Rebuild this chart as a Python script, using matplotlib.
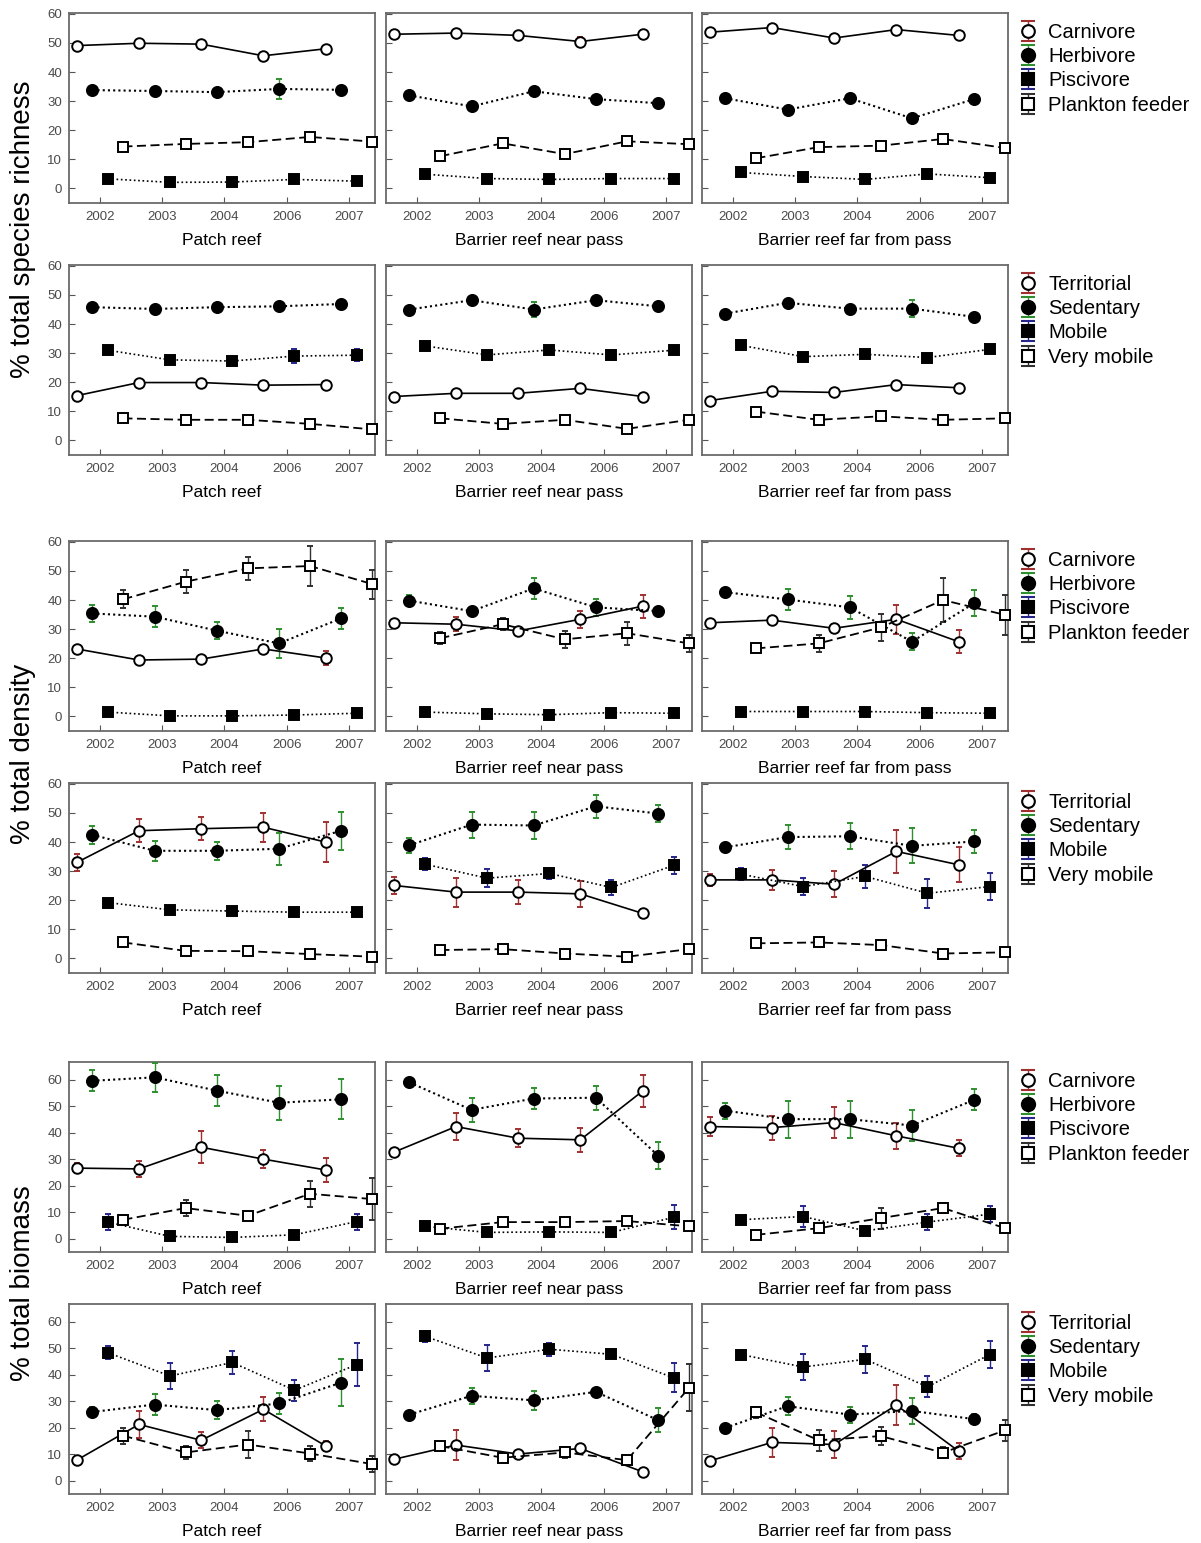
import numpy as np
import matplotlib.pyplot as plt

plt.rcParams['font.family'] = ['Liberation Sans', 'DejaVu Sans']

years = ['2002', '2003', '2004', '2006', '2007']
sites = ['Patch reef', 'Barrier reef near pass', 'Barrier reef far from pass']
trophic = ['Carnivore', 'Herbivore', 'Piscivore', 'Plankton feeder']
mobility = ['Territorial', 'Sedentary', 'Mobile', 'Very mobile']

# each list: one row per site (patch, near pass, far from pass), one value per year
# --- % total species richness, trophic groups
rich_carn = [[49.1, 49.9, 49.6, 45.6, 48.0], [53.0, 53.4, 52.6, 50.5, 53.0], [53.7, 55.3, 51.7, 54.6, 52.6]]
rich_carn_err = [[0.5, 0.5, 0.5, 0.8, 0.5], [0.5, 0.5, 0.5, 1.5, 1.5], [0.5, 0.5, 0.5, 0.5, 0.5]]
rich_herb = [[33.8, 33.5, 33.1, 34.2, 33.9], [32.0, 28.2, 33.4, 30.7, 29.3], [31.0, 27.1, 31.0, 24.1, 30.7]]
rich_herb_err = [[0.8, 0.6, 0.6, 3.5, 0.6], [0.8, 0.8, 0.8, 0.8, 0.6], [0.6, 0.6, 0.6, 0.6, 0.6]]
rich_pisc = [[3.3, 2.1, 2.2, 3.1, 2.5], [4.9, 3.4, 3.1, 3.4, 3.4], [5.5, 4.1, 3.1, 5.0, 3.7]]
rich_pisc_err = [[0.5, 0.5, 0.5, 0.5, 0.5], [0.5, 0.5, 0.5, 0.5, 0.5], [0.5, 0.5, 0.5, 0.5, 0.5]]
rich_plank = [[14.4, 15.3, 15.9, 17.7, 16.1], [11.1, 15.5, 11.8, 16.2, 15.2], [10.4, 14.2, 14.7, 17.0, 13.9]]
rich_plank_err = [[0.5, 0.5, 0.5, 0.8, 0.5], [0.5, 0.5, 0.5, 0.5, 0.5], [0.5, 0.5, 0.5, 0.5, 0.5]]

# --- % total species richness, mobility groups
rich_terr = [[15.4, 19.9, 19.9, 19.0, 19.2], [15.1, 16.2, 16.2, 17.9, 15.1], [13.7, 16.9, 16.5, 19.2, 18.1]]
rich_terr_err = [[0.5, 0.5, 0.5, 0.5, 0.5], [0.5, 0.5, 0.5, 0.5, 0.5], [0.5, 0.5, 0.5, 0.5, 0.5]]
rich_sed = [[45.8, 45.2, 45.8, 46.1, 46.9], [45.0, 48.2, 45.0, 48.2, 46.1], [43.6, 47.3, 45.3, 45.3, 42.5]]
rich_sed_err = [[0.5, 0.5, 0.5, 0.8, 0.5], [0.5, 0.8, 2.5, 0.8, 0.5], [0.5, 0.5, 0.8, 3.0, 0.5]]
rich_mob = [[31.0, 27.7, 27.3, 29.0, 29.3], [32.5, 29.4, 31.1, 29.4, 31.0], [32.7, 28.8, 29.6, 28.5, 31.3]]
rich_mob_err = [[0.8, 0.5, 0.5, 2.5, 2.0], [0.8, 0.5, 0.5, 0.5, 0.5], [0.8, 0.5, 0.5, 0.5, 0.5]]
rich_vmob = [[7.6, 7.1, 7.1, 5.7, 3.8], [7.6, 5.7, 7.1, 4.0, 7.1], [9.9, 7.1, 8.3, 7.1, 7.6]]
rich_vmob_err = [[0.5, 0.5, 0.5, 0.5, 0.5], [0.5, 0.5, 0.5, 0.5, 0.5], [0.5, 0.5, 0.5, 0.5, 0.5]]

# --- % total density, trophic groups
dens_carn = [[23.2, 19.4, 19.7, 23.2, 20.1], [32.2, 31.7, 29.4, 33.4, 37.9], [32.2, 33.1, 30.3, 33.4, 25.7]]
dens_carn_err = [[1.0, 1.0, 1.0, 1.5, 2.5], [1.0, 2.5, 1.0, 3.0, 4.0], [1.0, 1.0, 1.5, 5.0, 4.0]]
dens_herb = [[35.4, 34.3, 29.5, 25.1, 33.7], [39.8, 36.2, 44.0, 37.5, 36.2], [42.7, 40.2, 37.5, 25.7, 38.9]]
dens_herb_err = [[3.0, 3.5, 3.0, 5.0, 3.5], [2.0, 1.5, 3.5, 3.0, 1.5], [1.5, 3.5, 4.0, 3.0, 4.5]]
dens_pisc = [[1.5, 0.2, 0.2, 0.5, 1.1], [1.5, 0.9, 0.6, 1.3, 1.1], [1.7, 1.7, 1.7, 1.3, 1.1]]
dens_pisc_err = [[0.3, 0.2, 0.2, 0.2, 0.3], [0.3, 0.2, 0.2, 0.2, 0.2], [0.3, 0.3, 0.3, 0.3, 0.2]]
dens_plank = [[40.3, 46.3, 50.9, 51.7, 45.5], [26.9, 31.7, 26.5, 28.6, 25.1], [23.4, 25.1, 30.6, 40.0, 34.9]]
dens_plank_err = [[3.0, 4.0, 4.0, 7.0, 5.0], [2.0, 2.0, 3.0, 4.0, 3.0], [1.0, 3.0, 4.5, 7.5, 7.0]]

# --- % total density, mobility groups
dens_terr = [[33.0, 43.9, 44.6, 45.1, 40.0], [25.1, 22.8, 22.8, 22.2, 15.5], [27.0, 27.0, 25.5, 36.8, 32.2]]
dens_terr_err = [[3.0, 4.0, 4.0, 5.0, 7.0], [3.0, 5.0, 4.0, 4.5, 1.5], [2.0, 3.5, 4.5, 7.5, 6.0]]
dens_sed = [[42.5, 37.0, 37.0, 37.7, 43.9], [38.9, 46.0, 45.7, 52.3, 49.8], [38.2, 41.7, 42.0, 38.7, 40.2]]
dens_sed_err = [[3.0, 3.5, 3.0, 5.5, 6.5], [2.5, 4.5, 4.5, 4.0, 3.0], [1.5, 4.0, 4.5, 6.0, 4.0]]
dens_mob = [[19.2, 16.7, 16.3, 15.9, 15.9], [32.4, 27.6, 29.2, 24.4, 32.0], [29.0, 24.7, 28.2, 22.4, 24.7]]
dens_mob_err = [[1.0, 1.0, 1.0, 1.0, 1.0], [2.0, 3.0, 2.0, 2.5, 3.0], [2.0, 3.0, 4.0, 5.0, 4.5]]
dens_vmob = [[5.5, 2.6, 2.5, 1.5, 0.6], [2.9, 3.2, 1.7, 0.6, 3.2], [5.2, 5.5, 4.6, 1.7, 2.1]]
dens_vmob_err = [[0.5, 0.5, 0.5, 0.5, 0.3], [0.5, 0.5, 0.5, 0.3, 0.5], [0.5, 0.5, 0.5, 0.5, 0.5]]

# --- % total biomass, trophic groups
bio_carn = [[26.7, 26.4, 34.6, 30.1, 26.0], [32.7, 42.4, 38.0, 37.4, 55.8], [42.4, 42.0, 43.9, 38.9, 34.2]]
bio_carn_err = [[2.0, 3.0, 6.0, 3.5, 4.5], [1.0, 5.0, 3.5, 4.5, 6.0], [3.5, 4.5, 6.0, 5.0, 3.0]]
bio_herb = [[59.7, 61.0, 56.0, 51.4, 52.7], [59.1, 48.7, 53.0, 53.3, 31.4], [48.4, 45.2, 45.2, 42.8, 52.5]]
bio_herb_err = [[4.0, 5.5, 6.0, 6.5, 7.5], [0.5, 4.5, 4.0, 4.5, 5.0], [3.0, 7.0, 7.0, 6.0, 4.0]]
bio_pisc = [[6.3, 0.9, 0.5, 1.5, 6.5], [4.7, 2.4, 2.6, 2.4, 8.1], [7.2, 8.4, 3.0, 6.3, 9.3]]
bio_pisc_err = [[3.0, 0.5, 0.5, 0.5, 3.0], [1.0, 0.5, 0.5, 0.5, 4.5], [1.0, 4.0, 1.0, 3.0, 3.0]]
bio_plank = [[7.2, 11.6, 8.7, 17.0, 15.0], [3.8, 6.3, 6.3, 6.7, 4.7], [1.5, 4.0, 7.8, 11.6, 4.0]]
bio_plank_err = [[1.0, 3.0, 1.0, 5.0, 8.0], [0.5, 1.0, 1.0, 1.0, 1.0], [0.5, 1.0, 4.0, 2.0, 1.0]]

# --- % total biomass, mobility groups
bio_terr = [[7.8, 21.3, 15.3, 27.0, 13.2], [8.1, 13.5, 10.1, 12.2, 3.4], [7.5, 14.5, 13.7, 28.6, 11.2]]
bio_terr_err = [[1.0, 5.0, 3.0, 4.5, 2.0], [1.0, 5.5, 1.0, 1.5, 0.5], [1.0, 5.5, 5.0, 7.5, 3.0]]
bio_sed = [[26.0, 28.8, 26.7, 29.2, 37.1], [25.0, 32.1, 30.4, 33.6, 22.9], [20.0, 28.2, 25.0, 26.4, 23.3]]
bio_sed_err = [[2.0, 4.0, 3.5, 4.0, 9.0], [1.0, 3.0, 3.5, 1.0, 4.5], [1.0, 3.5, 3.0, 5.0, 2.0]]
bio_mob = [[48.4, 39.6, 44.7, 34.2, 43.9], [54.6, 46.4, 49.7, 47.8, 38.9], [47.7, 43.0, 45.9, 35.5, 47.7]]
bio_mob_err = [[2.5, 5.0, 4.5, 4.0, 8.0], [2.0, 5.0, 2.5, 1.0, 5.5], [1.5, 5.0, 5.0, 4.0, 5.0]]
bio_vmob = [[17.0, 10.7, 13.7, 10.3, 6.3], [13.1, 8.7, 10.7, 7.8, 35.2], [25.8, 15.3, 16.9, 10.6, 19.1]]
bio_vmob_err = [[3.0, 2.5, 5.0, 3.0, 3.0], [1.0, 1.0, 2.0, 1.0, 9.0], [2.0, 4.0, 3.5, 2.0, 4.0]]

rows = [
    ([rich_carn, rich_herb, rich_pisc, rich_plank], [rich_carn_err, rich_herb_err, rich_pisc_err, rich_plank_err], trophic, 60.3),
    ([rich_terr, rich_sed, rich_mob, rich_vmob], [rich_terr_err, rich_sed_err, rich_mob_err, rich_vmob_err], mobility, 60.3),
    ([dens_carn, dens_herb, dens_pisc, dens_plank], [dens_carn_err, dens_herb_err, dens_pisc_err, dens_plank_err], trophic, 60.3),
    ([dens_terr, dens_sed, dens_mob, dens_vmob], [dens_terr_err, dens_sed_err, dens_mob_err, dens_vmob_err], mobility, 60.3),
    ([bio_carn, bio_herb, bio_pisc, bio_plank], [bio_carn_err, bio_herb_err, bio_pisc_err, bio_plank_err], trophic, 66.8),
    ([bio_terr, bio_sed, bio_mob, bio_vmob], [bio_terr_err, bio_sed_err, bio_mob_err, bio_vmob_err], mobility, 66.8),
]

# marker / line look of the four groups
offsets = [-0.375, -0.125, 0.125, 0.375]
mk = ['o', 'o', 's', 's']
ms = [7.6, 8.0, 7.8, 7.5]
fill = ['white', 'black', 'black', 'white']
lstyle = ['-', (0, (1, 1.5)), (0, (1, 1.6)), (0, (5, 2.5))]
lwid = [1.2, 1.5, 1.2, 1.3]
ecol = ['#a03030', '#2f8f2f', '#25258a', '#303030']

W, H = 1201, 1543
fig = plt.figure(figsize=(W / 100, H / 100), dpi=100)
col_left = [69, 386, 702]
row_top = [13, 265, 541, 783, 1062, 1304]
pw, ph = 306, 190

for r, (vals, errs, labels, ytop) in enumerate(rows):
    for c in range(3):
        ax = fig.add_axes([col_left[c] / W, 1 - (row_top[r] + ph) / H, pw / W, ph / H])
        for k in range(4):
            x = np.arange(5) + offsets[k]
            ax.errorbar(x, vals[k][c], yerr=errs[k][c], marker=mk[k], ms=ms[k], mfc=fill[k],
                        mec='black', mew=1.4, color='black', ls=lstyle[k], lw=lwid[k],
                        ecolor=ecol[k], elinewidth=1, capsize=2.2, capthick=1, zorder=3,
                        clip_on=False)
        ax.set_xlim(-0.5, 4.42)
        ax.set_ylim(-5, ytop)
        ax.set_xticks(range(5), years)
        ax.set_yticks(range(0, 61, 10))
        ax.tick_params(direction='in', length=4, width=0.8, color='#555555', labelsize=9.5,
                       labelcolor='#4a4a4a', pad=5)
        ax.tick_params(axis='x', pad=6)
        if c > 0:
            ax.tick_params(labelleft=False)
        for sp in ax.spines.values():
            sp.set_color('#6a6a6a')
            sp.set_linewidth(1.3)
        ax.set_xlabel(sites[c], fontsize=12.5, labelpad=7)

        if c == 2:
            handles = []
            for k in range(4):
                h = ax.errorbar([np.nan], [np.nan], yerr=[1], marker=mk[k], ms=ms[k] + 1.5, mfc=fill[k],
                                mec='black', mew=1.5, ls='none', ecolor=ecol[k],
                                elinewidth=1, capsize=5, capthick=1)
                handles.append(h)
            ax.legend(handles, labels, loc='upper left', bbox_to_anchor=(1 + 10 / pw, 1 - 10 / ph),
                      frameon=False, fontsize=14.5, numpoints=1, handlelength=1.0,
                      handletextpad=0.5, labelspacing=0.26, borderpad=0, borderaxespad=0)

fig.text(23 / W, 1 - 229 / H, '% total species richness', rotation=90, fontsize=20, ha='center', va='center')
fig.text(23 / W, 1 - 754 / H, '% total density', rotation=90, fontsize=20, ha='center', va='center')
fig.text(23 / W, 1 - 1283 / H, '% total biomass', rotation=90, fontsize=20, ha='center', va='center')

fig.savefig('out.png', dpi=100)
